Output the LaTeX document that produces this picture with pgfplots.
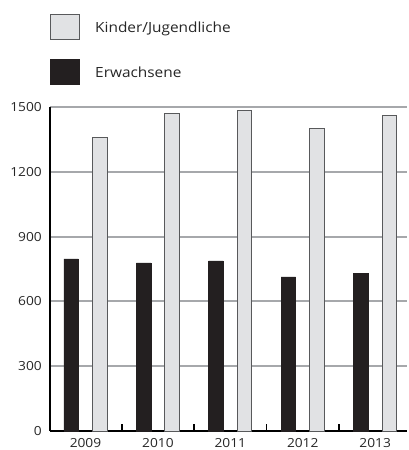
\documentclass[border=0pt]{standalone}
\usepackage{pgfplots}
\pgfplotsset{compat=1.18}
\usepackage{fontspec}
\setmainfont{Open Sans}[FakeStretch=1.1]
\usetikzlibrary{calc}
\definecolor{barblack}{HTML}{231F20}
\definecolor{barlight}{HTML}{E1E2E4}
\definecolor{barborder}{HTML}{58595B}
\definecolor{gridgray}{HTML}{A6A8AB}
\begin{document}
\begin{tikzpicture}
\begin{axis}[
  name=ax,
  scale only axis,
  width=357pt, height=324pt,
  xmin=-0.49, xmax=4.44,
  ymin=0, ymax=1500,
  ytick={0,300,600,900,1200,1500},
  xtick={0,1,2,3,4},
  xticklabels={2009,2010,2011,2012,2013},
  extra x ticks={0.5,1.5,2.5,3.5},
  extra x tick labels={},
  extra x tick style={major tick length=7pt, tick align=inside, major tick style={black, line width=1.8pt}, xmajorgrids=false},
  major tick length=0pt,
  axis x line=bottom, axis y line=left,
  x axis line style={-, black, line width=2pt},
  y axis line style={-, black, line width=2pt},
  ymajorgrids, grid style={gridgray, line width=2pt},
  /pgf/number format/assume math mode=true,
  /pgf/number format/1000 sep={},
  ticklabel style={font=\fontsize{12.5}{14}\selectfont, text=black!85},
  yticklabel style={inner sep=0pt, xshift=-8pt},
  xticklabel style={inner sep=0pt, yshift=-7pt},
  legend style={at={(0,1)}, anchor=south west, yshift=22pt, draw=none, fill=none,
    font=\fontsize{14}{16}\selectfont, row sep=19pt, inner sep=0pt,
    nodes={inner sep=0pt, text=black!85}},
  legend cell align=left,
  legend image code/.code={\draw[#1, line width=1pt] (0pt,-12.5pt) rectangle (29pt,12.5pt);},
  legend columns=1,
]
\addplot[ybar, bar width=0.2, bar shift=0.198, fill=barlight, draw=barborder, line width=1pt]
  coordinates {(0,1360) (1,1468) (2,1483) (3,1400) (4,1460)};
\addlegendentry{\hspace{15pt}\raisebox{-2pt}{Kinder/Jugendliche}}
\addplot[ybar, bar width=0.2, bar shift=-0.198, fill=barblack, draw=barblack, line width=0.5pt]
  coordinates {(0,797) (1,778) (2,788) (3,714) (4,731)};
\addlegendentry{\hspace{15pt}\raisebox{-2pt}{Erwachsene}}
\end{axis}
\pgfresetboundingbox
\useasboundingbox ($(ax.south west)+(-50pt,-19pt)$) rectangle ($(ax.south west)+(359pt,431pt)$);
\end{tikzpicture}
\end{document}
